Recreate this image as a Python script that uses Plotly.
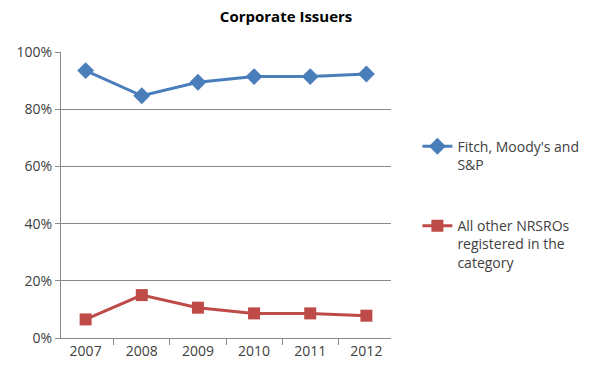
import plotly.graph_objects as go

years = ["2007", "2008", "2009", "2010", "2011", "2012"]
big3 = [0.935, 0.847, 0.894, 0.914, 0.914, 0.923]
others = [0.065, 0.150, 0.106, 0.086, 0.086, 0.078]
y_ticks = [0, 0.2, 0.4, 0.6, 0.8, 1.0]
y_labels = ["0%", "20%", "40%", "60%", "80%", "100%"]

fig = go.Figure()
fig.add_trace(go.Scatter(
    x=years, y=big3, mode="lines+markers", name="Fitch, Moody's and<br>S&P",
    line=dict(color="#4a7ebb", width=3),
    marker=dict(symbol="diamond", size=13, color="#4a7ebb"),
    legendgroup="a"))
fig.add_trace(go.Scatter(
    x=years, y=others, mode="lines+markers",
    name="All other NRSROs<br>registered in the<br>category",
    line=dict(color="#be4b48", width=3),
    marker=dict(symbol="square", size=12, color="#be4b48"),
    legendgroup="b"))

fig.update_layout(
    width=596, height=378,
    margin=dict(l=61, r=203, t=52, b=40),
    paper_bgcolor="white", plot_bgcolor="white",
    font=dict(family="Open Sans", size=14, color="#404040"),
    title=dict(text="<b>Corporate Issuers</b>", x=0.48, xanchor="center",
               y=0.955, yanchor="middle", font=dict(size=15, color="#000000")),
    legend=dict(x=1.08, y=0.725, xanchor="left", yanchor="top",
                tracegroupgap=40, valign="top",
                font=dict(size=14, color="#404040")),
    showlegend=True,
)
fig.update_xaxes(type="category", showline=True, linecolor="#888888", linewidth=1,
                 ticks="outside", tickson="boundaries", ticklen=6, tickcolor="#888888",
                 showgrid=False, tickfont=dict(size=14, color="#404040"))
fig.update_yaxes(range=[0, 1.0], tickvals=y_ticks, ticktext=y_labels,
                 showline=True, linecolor="#888888", linewidth=1,
                 ticks="outside", ticklen=5, tickcolor="#888888",
                 showgrid=True, gridcolor="#888888", gridwidth=1,
                 zeroline=False, tickfont=dict(size=14, color="#404040"))

fig.write_html("out.html")
